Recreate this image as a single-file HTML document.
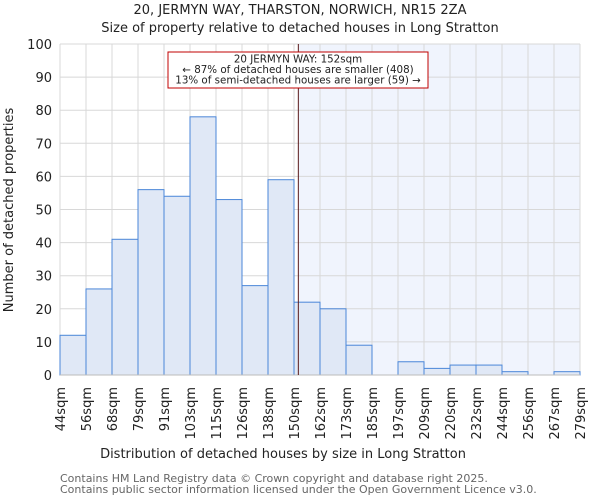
<!DOCTYPE html>
<html><head><meta charset="utf-8"><style>
body{margin:0;background:#fff;font-family:"DejaVu Sans","Liberation Sans",sans-serif;}
svg text{font-family:"DejaVu Sans","Liberation Sans",sans-serif;}
</style></head><body>
<svg id="chart" width="600" height="500" xmlns="http://www.w3.org/2000/svg">
<text x="300" y="14" text-anchor="middle" font-size="13" fill="#222">20, JERMYN WAY, THARSTON, NORWICH, NR15 2ZA</text>
<text x="300" y="32" text-anchor="middle" font-size="13" fill="#222">Size of property relative to detached houses in Long Stratton</text>
<g id="plot"></g>
<text x="283" y="458" text-anchor="middle" font-size="13" fill="#222">Distribution of detached houses by size in Long Stratton</text>
<text transform="translate(13,210) rotate(-90)" text-anchor="middle" font-size="13" fill="#222">Number of detached properties</text>
<text x="60" y="482" font-size="11" fill="#666">Contains HM Land Registry data © Crown copyright and database right 2025.</text>
<text x="60" y="493" font-size="11" fill="#666">Contains public sector information licensed under the Open Government Licence v3.0.</text>
</svg>
<script>
const edgeLabels=["44sqm","56sqm","68sqm","79sqm","91sqm","103sqm","115sqm","126sqm","138sqm","150sqm","162sqm","173sqm","185sqm","197sqm","209sqm","220sqm","232sqm","244sqm","256sqm","267sqm","279sqm"];
const binEdges=[44,56,68,79,91,103,115,126,138,150,162,173,185,197,209,220,232,244,256,267,279];
const counts=[12,26,41,56,54,78,53,27,59,22,20,9,0,4,2,3,3,1,0,1];
const yTicks=[0,10,20,30,40,50,60,70,80,90,100];
const propertySize=152;
const NS="http://www.w3.org/2000/svg";
const L=60,R=580,T=44,B=375;
const bw=(R-L)/counts.length;
function xIdx(i){return L+i*bw;}
function xVal(v){let i=0;while(i<binEdges.length-2&&v>binEdges[i+1])i++;return xIdx(i)+bw*(v-binEdges[i])/(binEdges[i+1]-binEdges[i]);}
function y(v){return B-(B-T)*v/100;}
const g=document.getElementById('plot');
function mk(t,a,p){const e=document.createElementNS(NS,t);for(const k in a)e.setAttribute(k,a[k]);(p||g).appendChild(e);return e;}
const px=xVal(propertySize);
let sh=mk('rect',{x:px,y:T,width:R-px,height:B-T,fill:'#f0f4fd'});


yTicks.forEach(t=>{
 let l=mk('line',{x1:L,x2:R,y1:y(t),y2:y(t),stroke:'#d8d8d8'});
 
 
 let tx=mk('text',{x:L-8,y:y(t)+5,'text-anchor':'end','font-size':13,fill:'#222'});
 tx.textContent=t;
 
 
});
edgeLabels.forEach((s,i)=>{
 let l=mk('line',{x1:xIdx(i),x2:xIdx(i),y1:T,y2:B,stroke:'#d8d8d8'});
 
 
 let tx=mk('text',{transform:`translate(${xIdx(i)+5},${B+12}) rotate(-90)`,'text-anchor':'end','font-size':13,fill:'#222'});
 tx.textContent=s;
 
 
});
counts.forEach((c,i)=>{
 let r=mk('rect',{x:xIdx(i),y:y(c),width:bw,height:B-y(c),fill:'#e0e8f6',stroke:'#4a86d8','stroke-width':1});
 
 
});
let ax=mk('line',{x1:L,x2:R,y1:B,y2:B,stroke:'#bbb'});


let ml=mk('line',{x1:px,x2:px,y1:T,y2:B,stroke:'#5a1a1a','stroke-width':1});


let box=mk('rect',{x:168,y:52,width:260,height:36,fill:'#fff',stroke:'#c00000'});


["20 JERMYN WAY: 152sqm","← 87% of detached houses are smaller (408)","13% of semi-detached houses are larger (59) →"].forEach((s,i)=>{
 let t=mk('text',{x:298,y:62.5+i*10.5,'text-anchor':'middle','font-size':10.3,fill:'#222'});
 t.textContent=s;
 
 
});
</script>
</body></html>
